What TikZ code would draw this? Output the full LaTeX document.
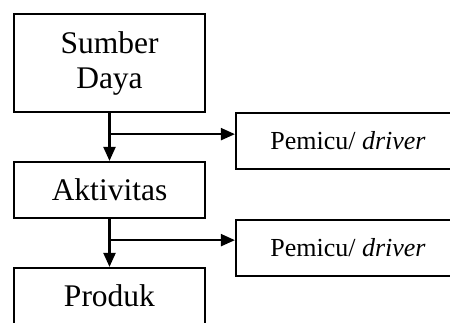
\documentclass[tikz,border=0pt]{standalone}
\usepackage{fontspec}
\setmainfont{Liberation Serif}
\usetikzlibrary{arrows.meta,calc}

\begin{document}
\begin{tikzpicture}[x=1pt, y=-1pt, line width=2.2pt,
    kotak/.style={draw, minimum width=191pt, inner sep=0pt, align=center,
        font=\fontsize{31.5}{35}\selectfont},
    pemicu/.style={draw, minimum width=234pt, minimum height=56pt, inner sep=0pt,
        font=\fontsize{26}{30}\selectfont},
    panah/.style={-{Triangle[length=14pt,width=12pt]}}]
    \useasboundingbox (0,0) rectangle (450,322);
    \fill[white] (0,0) rectangle (450,322);
    \clip (0,0) rectangle (450,322);

    % kolom kiri
    \node[kotak, minimum height=98pt] (sumber) at (109.5,63) {Sumber\\Daya};
    \node[kotak, minimum height=56pt] (aktivitas) at (109.5,190) {Aktivitas};
    \node[kotak, minimum height=80pt] (produk) at (109.5,308) {};
    \node[font=\fontsize{31.5}{35}\selectfont] (produkteks) at (109.5,296) {Produk};

    % pemicu
    \node[pemicu] (driverA) at (353,141) {\hspace*{-10pt}Pemicu/ \textit{driver}};
    \node[pemicu] (driverB) at (353,248) {\hspace*{-10pt}Pemicu/ \textit{driver}};

    \coordinate (cabangA) at ($(sumber.south)!0.44!(aktivitas.north)$);
    \coordinate (cabangB) at ($(aktivitas.south)!0.44!(produk.north)$);

    \draw[panah] (sumber.south) -- (aktivitas.north);
    \draw[panah] (cabangA) -- (cabangA -| driverA.west);
    \draw[panah] (aktivitas.south) -- (produk.north);
    \draw[panah] (cabangB) -- (cabangB -| driverB.west);
\end{tikzpicture}
\end{document}
